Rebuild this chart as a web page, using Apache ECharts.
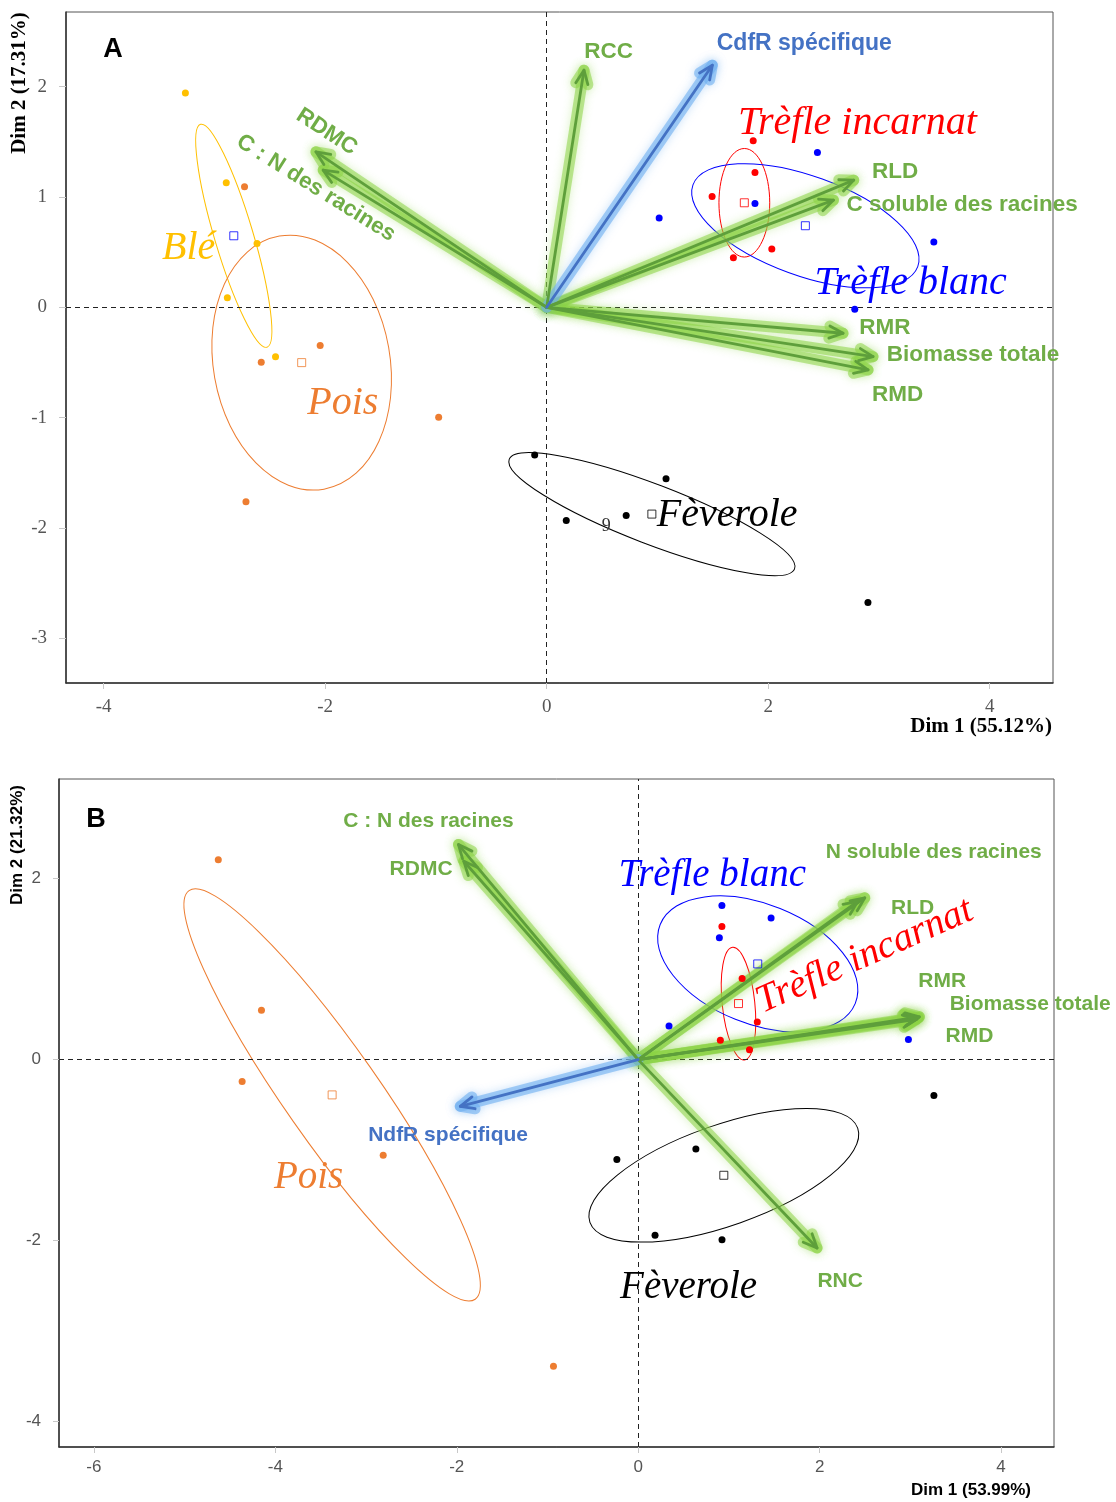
<!DOCTYPE html>
<html><head><meta charset="utf-8">
<script src="https://cdn.jsdelivr.net/npm/echarts@6/dist/echarts.min.js"></script>
<style>html,body{margin:0;padding:0;background:#fff}#c{width:1116px;height:1502px}</style>
</head><body><div id="c"></div>
<script>
// ===================== Panel A data =====================
const aTickX = [-4, -2, 0, 2, 4];
const aTickY = [-3, -2, -1, 0, 1, 2];
const aBle  = [[-3.262,1.942],[-2.893,1.128],[-2.615,0.579],[-2.883,0.087],[-2.448,-0.447]];
const aPois = [[-2.728,1.091],[-2.045,-0.347],[-2.577,-0.498],[-0.975,-0.995],[-2.715,-1.762]];
const aTI   = [[1.865,1.508],[1.881,1.222],[1.494,1.004],[2.033,0.528],[1.686,0.449]];
const aTB   = [[2.445,1.403],[1.881,0.941],[1.016,0.808],[3.496,0.591],[2.782,-0.018]];
const aFev  = [[-0.108,-1.337],[1.078,-1.554],[0.177,-1.931],[0.718,-1.886],[2.901,-2.673]];
// group centres [x, y]
const aCentres = [[-2.825,0.648],[-2.212,-0.501],[1.785,0.947],[2.336,0.739],[0.950,-1.873]];
// ellipses: [cx, cy, semi-major, semi-minor, angle deg]
const aEllBle  = [-2.825, 0.648, 1.05, 0.175, 106.6];
const aEllPois = [-2.212, -0.501, 1.16, 0.80, 100];
const aEllTI   = [1.785, 0.947, 0.49, 0.23, 90];
const aEllTB   = [2.336, 0.739, 1.08, 0.45, -20];
const aEllFev  = [0.950, -1.873, 1.38, 0.27, -21];
// variable arrows
const aVarNames = ['RCC','RLD','C soluble des racines','RMR','Biomasse totale','RMD','RDMC','C : N des racines'];
const aVarTips  = [[0.337,2.148],[2.773,1.152],[2.590,0.971],[2.676,-0.235],[2.947,-0.447],[2.902,-0.567],[-2.083,1.408],[-2.018,1.243]];
const aSupNames = ['CdfR spécifique'];
const aSupTips  = [[1.496,2.193]];
const aGroups = ['Blé','Pois','Trèfle incarnat','Trèfle blanc','Fèverole'];

// ===================== Panel B data =====================
const bTickX = [-6, -4, -2, 0, 2, 4];
const bTickY = [-4, -2, 0, 2];
const bPois = [[-4.629,2.207],[-4.153,0.545],[-4.366,-0.243],[-2.811,-1.057],[-0.934,-3.389]];
const bTI   = [[0.923,1.470],[1.146,0.895],[1.313,0.416],[0.906,0.213],[1.227,0.110]];
const bTB   = [[0.923,1.702],[1.465,1.565],[0.895,1.345],[0.340,0.372],[2.979,0.221]];
const bFev  = [[3.260,-0.398],[0.636,-0.987],[-0.235,-1.105],[0.186,-1.941],[0.924,-1.989]];
const bCentres = [[-3.374,-0.390],[1.106,0.619],[1.318,1.057],[0.944,-1.278]];
const bEllPois = [-3.374, -0.390, 2.75, 0.52, 125];
const bEllTI   = [1.106, 0.619, 0.625, 0.18, 96];
const bEllTB   = [1.318, 1.057, 1.16, 0.66, -22];
const bEllFev  = [0.944, -1.278, 1.565, 0.555, 19.4];
const bVarNames = ['C : N des racines','RDMC','N soluble des racines','RLD','RMR','Biomasse totale','RMD','RNC'];
const bVarTips  = [[-1.981,2.376],[-1.922,2.191],[2.498,1.787],[2.420,1.749],[3.100,0.472],[3.086,0.460],[3.070,0.445],[1.972,-2.081]];
const bSupNames = ['NdfR spécifique'];
const bSupTips  = [[-1.961,-0.516]];
const bGroups = ['Pois','Trèfle incarnat','Trèfle blanc','Fèverole'];

// ===================== layout (label anchors, data coords) =====================
const aVarLabelPos = [[0.559,2.313,'center',0],[3.147,1.227,'center',0],[2.707,0.926,'left',0],[3.055,-0.190,'center',0],[3.070,-0.432,'left',0],[3.170,-0.794,'center',0],[-1.986,1.589,'center',-33],[-2.083,1.080,'center',-32]];
const aSupLabelPos = [[2.326,2.389,'center',0]];
const aGroupLabelPos = [[-3.233,0.534,0],[-1.840,-0.869,0],[2.806,1.665,0],[3.287,0.217,0],[1.630,-1.889,0]];
const bVarLabelPos = [[-2.313,2.633,'center',0],[-2.393,2.099,'center',0],[3.259,2.291,'center',0],[3.025,1.676,'center',0],[3.351,0.865,'center',0],[3.434,0.608,'left',0],[3.652,0.257,'center',0],[2.227,-2.450,'center',0]];
const bSupLabelPos = [[-2.096,-0.840,'center',0]];
const bGroupLabelPos = [[-3.634,-1.307,0],[2.498,1.141,24],[0.817,2.033,0],[0.556,-2.523,0]];

const GREEN = '#70AD47', GREEN_LINE = '#5E9F3B', GREEN_GLOW = 'rgba(140,212,70,0.55)';
const BLUE_T = '#4472C4', BLUE_GLOW = 'rgba(110,175,240,0.6)';
const groupColA = ['#FFC000','#ED7D31','#FF0000','#0000FF','#000000'];
const groupColB = ['#ED7D31','#FF0000','#0000FF','#000000'];
const centreColA = ['#0000FF','#ED7D31','#FF0000','#0000FF','#000000'];
const centreColB = ['#ED7D31','#FF0000','#0000FF','#000000'];

function ellipseSeries(gi, p, color) {
  return {
    type: 'custom', xAxisIndex: gi, yAxisIndex: gi, silent: true, z: 2,
    data: [p],
    renderItem(params, api) {
      const c = api.coord([api.value(0), api.value(1)]);
      const s = api.size([api.value(2), api.value(3)]);
      return { type: 'ellipse', x: c[0], y: c[1], rotation: api.value(4) * Math.PI / 180,
        shape: { cx: 0, cy: 0, rx: s[0], ry: s[1] },
        style: { fill: 'none', stroke: color, lineWidth: 1 } };
    }
  };
}
function arrowSeries(gi, tips, color, glow) {
  return {
    type: 'custom', xAxisIndex: gi, yAxisIndex: gi, silent: true, z: 5,
    data: tips,
    renderItem(params, api) {
      const o = api.coord([0, 0]);
      const t = api.coord([api.value(0), api.value(1)]);
      const ang = Math.atan2(t[1] - o[1], t[0] - o[0]);
      const L = 15, w = 0.42;
      const h1 = [t[0] - L * Math.cos(ang - w), t[1] - L * Math.sin(ang - w)];
      const h2 = [t[0] - L * Math.cos(ang + w), t[1] - L * Math.sin(ang + w)];
      const gs = { stroke: glow, lineWidth: 11, fill: 'none', shadowBlur: 10, shadowColor: glow, lineCap: 'round', lineJoin: 'round' };
      const ms = { stroke: color, lineWidth: 2.8, fill: 'none', lineCap: 'round', lineJoin: 'round' };
      return { type: 'group', children: [
        { type: 'polyline', shape: { points: [o, t] }, style: gs },
        { type: 'polyline', shape: { points: [h1, t, h2] }, style: gs },
        { type: 'polyline', shape: { points: [o, t] }, style: ms, z2: 10 },
        { type: 'polyline', shape: { points: [h1, t, h2] }, style: ms, z2: 10 }
      ] };
    }
  };
}
function textSeries(gi, names, pos, colorFn, font, z) {
  return {
    type: 'custom', xAxisIndex: gi, yAxisIndex: gi, silent: true, z: z || 8,
    data: pos.map(p => [p[0], p[1]]),
    renderItem(params, api) {
      const i = params.dataIndex;
      const c = api.coord([api.value(0), api.value(1)]);
      const p = pos[i];
      const align = typeof p[2] === 'string' ? p[2] : 'center';
      const rot = typeof p[2] === 'string' ? p[3] : p[2];
      return { type: 'text', x: c[0], y: c[1], rotation: rot * Math.PI / 180,
        style: { text: names[i], fill: colorFn(i), font: font, align: align, verticalAlign: 'middle' } };
    }
  };
}
function scatter(gi, data, color, z) {
  return { type: 'scatter', xAxisIndex: gi, yAxisIndex: gi, data: data, symbolSize: 7, z: z || 6,
    itemStyle: { color: color, opacity: 1 }, silent: true };
}
function centres(gi, data, colors) {
  return { type: 'scatter', xAxisIndex: gi, yAxisIndex: gi, symbol: 'rect', symbolSize: 8, z: 6, silent: true,
    data: data.map((d, i) => ({ value: d, itemStyle: { color: 'rgba(255,255,255,0)', borderColor: colors[i], borderWidth: 1 } })) };
}
function zeroLines(gi) {
  return { type: 'scatter', xAxisIndex: gi, yAxisIndex: gi, data: [], silent: true,
    markLine: { silent: true, symbol: ['none', 'none'], label: { show: false },
      lineStyle: { type: [5, 4], color: '#222', width: 1 },
      data: [{ xAxis: 0 }, { yAxis: 0 }] } };
}

const chart = echarts.init(document.getElementById('c'), null, { renderer: 'canvas' });
const serifTick = { color: '#555', fontFamily: 'Liberation Serif', fontSize: 19 };
const sansTick = { color: '#555', fontFamily: 'Liberation Sans', fontSize: 17 };

chart.setOption({
  animation: false,
  backgroundColor: '#fff',
  grid: [
    { left: 66, top: 12, width: 987, height: 671, show: true, borderColor: '#555', borderWidth: 1 },
    { left: 59, top: 779, width: 995, height: 668, show: true, borderColor: '#555', borderWidth: 1 }
  ],
  xAxis: [
    { gridIndex: 0, type: 'value', min: -4.34, max: 4.572, splitLine: { show: false },
      axisLine: { onZero: false, lineStyle: { color: '#333', width: 1.5 } },
      axisTick: { customValues: aTickX, length: 6, lineStyle: { color: '#c8c8c8' } },
      axisLabel: Object.assign({ customValues: aTickX, margin: 15 }, serifTick) },
    { gridIndex: 1, type: 'value', min: -6.385, max: 4.584, splitLine: { show: false },
      axisLine: { onZero: false, lineStyle: { color: '#333', width: 1.5 } },
      axisTick: { customValues: bTickX, length: 6, lineStyle: { color: '#c8c8c8' } },
      axisLabel: Object.assign({ customValues: bTickX, margin: 12 }, sansTick) }
  ],
  yAxis: [
    { gridIndex: 0, type: 'value', min: -3.403, max: 2.675, splitLine: { show: false },
      axisLine: { onZero: false, lineStyle: { color: '#333', width: 1.5 } },
      axisTick: { customValues: aTickY, length: 7, lineStyle: { color: '#c8c8c8' } },
      axisLabel: Object.assign({ customValues: aTickY, margin: 19 }, serifTick) },
    { gridIndex: 1, type: 'value', min: -4.28, max: 3.10, splitLine: { show: false },
      axisLine: { onZero: false, lineStyle: { color: '#333', width: 1.5 } },
      axisTick: { customValues: bTickY, length: 6, lineStyle: { color: '#c8c8c8' } },
      axisLabel: Object.assign({ customValues: bTickY, margin: 18 }, sansTick) }
  ],
  graphic: [
    { type: 'text', x: 1052, y: 727, style: { text: 'Dim 1 (55.12%)', font: 'bold 21px "Liberation Serif"', fill: '#000', align: 'right', verticalAlign: 'middle' } },
    { type: 'text', x: 20, y: 83, rotation: Math.PI / 2, style: { text: 'Dim 2 (17.31%)', font: 'bold 21px "Liberation Serif"', fill: '#000', align: 'center', verticalAlign: 'middle' } },
    { type: 'text', x: 971, y: 1490, style: { text: 'Dim 1 (53.99%)', font: 'bold 17px "Liberation Sans"', fill: '#000', align: 'center', verticalAlign: 'middle' } },
    { type: 'text', x: 17, y: 845, rotation: Math.PI / 2, style: { text: 'Dim 2 (21.32%)', font: 'bold 17px "Liberation Sans"', fill: '#000', align: 'center', verticalAlign: 'middle' } },
    { type: 'text', x: 113, y: 50, style: { text: 'A', font: 'bold 27px "Liberation Sans"', fill: '#000', align: 'center', verticalAlign: 'middle' } },
    { type: 'text', x: 96, y: 820, style: { text: 'B', font: 'bold 27px "Liberation Sans"', fill: '#000', align: 'center', verticalAlign: 'middle' } }
  ],
  series: [
    zeroLines(0), zeroLines(1),
    // ellipses A
    ellipseSeries(0, aEllBle, '#FFC000'), ellipseSeries(0, aEllPois, '#ED7D31'),
    ellipseSeries(0, aEllTI, '#FF0000'), ellipseSeries(0, aEllTB, '#0000FF'), ellipseSeries(0, aEllFev, '#000'),
    // ellipses B
    ellipseSeries(1, bEllPois, '#ED7D31'), ellipseSeries(1, bEllTI, '#FF0000'),
    ellipseSeries(1, bEllTB, '#0000FF'), ellipseSeries(1, bEllFev, '#000'),
    // arrows
    arrowSeries(0, aVarTips, GREEN_LINE, GREEN_GLOW), arrowSeries(0, aSupTips, BLUE_T, BLUE_GLOW),
    arrowSeries(1, bVarTips, GREEN_LINE, GREEN_GLOW), arrowSeries(1, bSupTips, BLUE_T, BLUE_GLOW),
    // points A
    scatter(0, aBle, '#FFC000', 7), scatter(0, aPois, '#ED7D31'), scatter(0, aTI, '#FF0000'),
    scatter(0, aTB, '#0000FF'), scatter(0, aFev, '#000'), centres(0, aCentres, centreColA),
    // points B
    scatter(1, bPois, '#ED7D31'), scatter(1, bTI, '#FF0000'), scatter(1, bTB, '#0000FF'),
    scatter(1, bFev, '#000'), centres(1, bCentres, centreColB),
    // labels
    textSeries(0, aVarNames, aVarLabelPos, () => GREEN, 'bold 22.5px "Liberation Sans"'),
    textSeries(0, aSupNames, aSupLabelPos, () => BLUE_T, 'bold 23px "Liberation Sans"'),
    textSeries(0, aGroups, aGroupLabelPos, i => groupColA[i], 'italic 40px "Liberation Serif"'),
    textSeries(0, ['9'], [[0.539, -1.979, 0]], () => '#333', '18px "Liberation Serif"'),
    textSeries(1, bVarNames, bVarLabelPos, () => GREEN, 'bold 21px "Liberation Sans"'),
    textSeries(1, bSupNames, bSupLabelPos, () => BLUE_T, 'bold 21px "Liberation Sans"'),
    textSeries(1, bGroups, bGroupLabelPos, i => groupColB[i], 'italic 39px "Liberation Serif"')
  ]
});
</script></body></html>
